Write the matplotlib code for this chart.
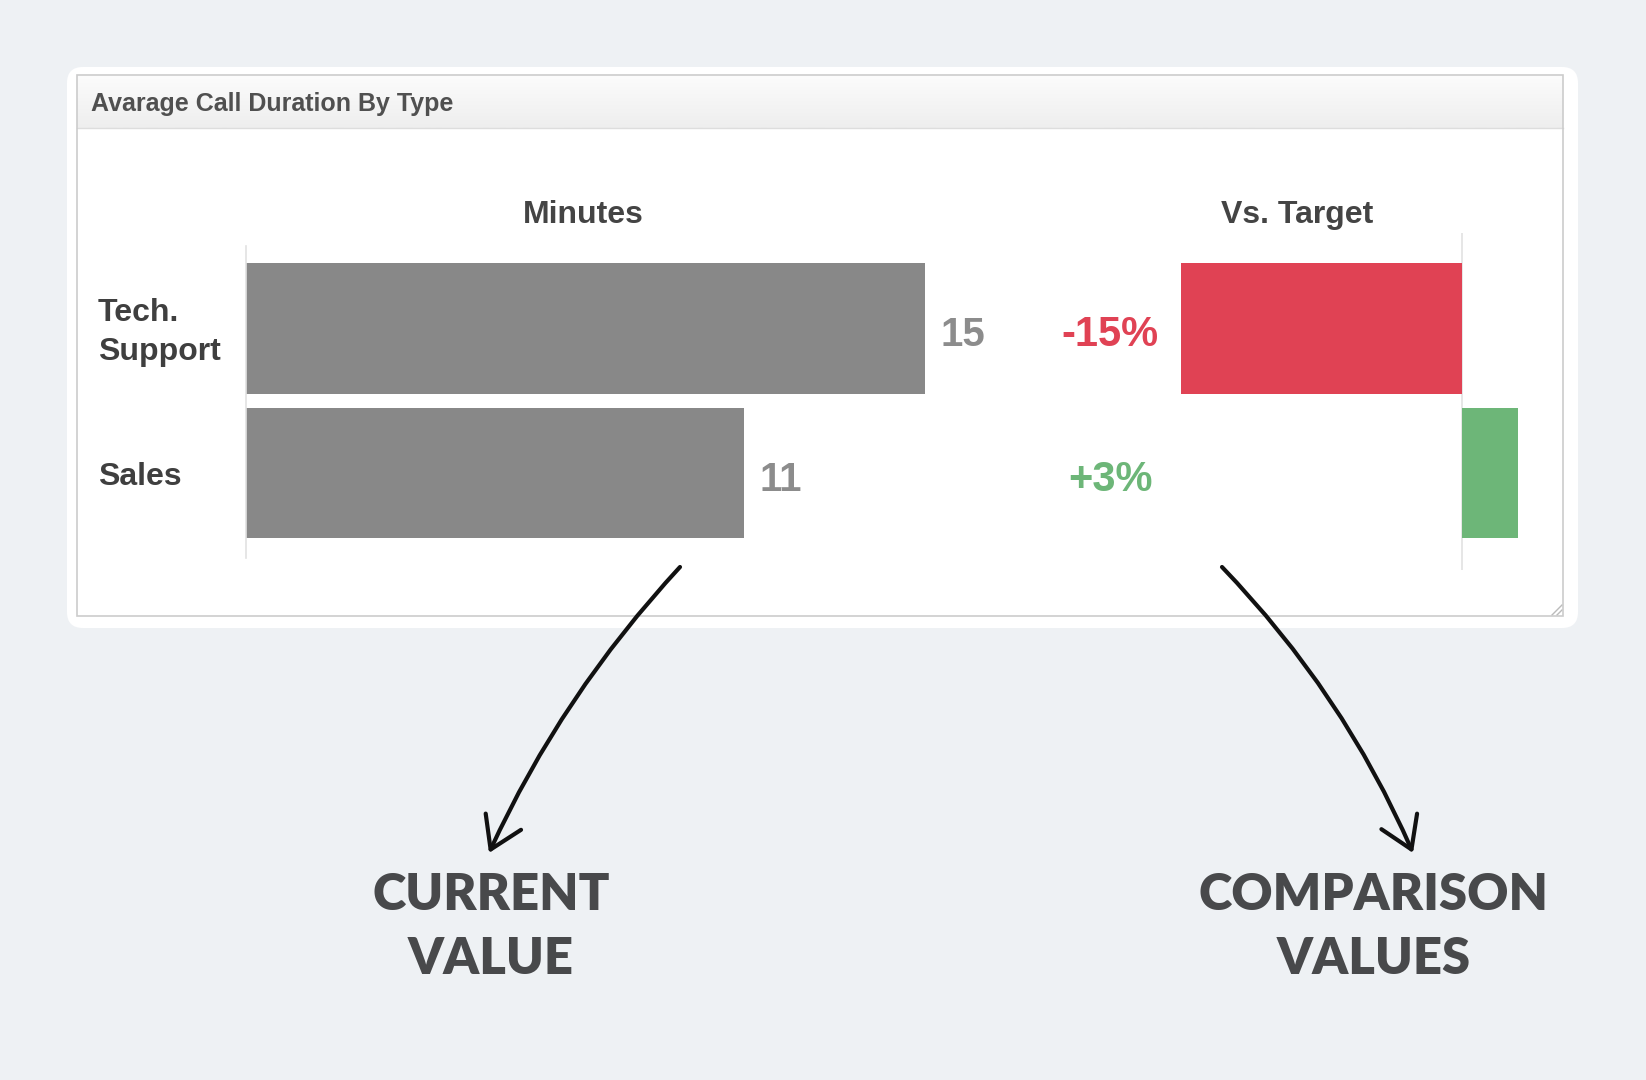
import matplotlib
matplotlib.use("Agg")
import matplotlib.pyplot as plt
import numpy as np
from matplotlib.patches import FancyBboxPatch, Rectangle, FancyArrowPatch, ArrowStyle
from matplotlib.lines import Line2D
from matplotlib import transforms as mtransforms

# ---------------- data ----------------
categories = ["Tech.\nSupport", "Sales"]
minutes = [15, 11]
vs_target = [-15, 3]
minute_labels = ["15", "11"]
target_labels = ["-15%", "+3%"]
title = "Avarage Call Duration By Type"
col_headers = ["Minutes", "Vs. Target"]
callout_left = ["CURRENT", "VALUE"]
callout_right = ["COMPARISON", "VALUES"]

# ---------------- styles ----------------
BG = "#eef1f4"
BAR_GREY = "#888888"
RED = "#e04254"
GREEN = "#6db678"
TXT_DARK = "#3f3f3f"
FONT = ["Liberation Sans", "DejaVu Sans"]

W, H, DPI = 1646, 1080, 100
fig = plt.figure(figsize=(W / DPI, H / DPI), dpi=DPI)
fig.patch.set_facecolor(BG)

# pixel transform with top-left origin
PX = mtransforms.Affine2D().scale(1 / DPI, -1 / DPI).translate(0, H / DPI) + fig.dpi_scale_trans


def fig_axes(x0, y0, x1, y1, z=1):
    ax = fig.add_axes([x0 / W, 1 - y1 / H, (x1 - x0) / W, (y1 - y0) / H])
    ax.set_zorder(z)
    return ax


def fx(x):
    return x / W


def fy(y):
    return 1 - y / H


# ---------------- card & panel ----------------
card = FancyBboxPatch((67, 67), 1511, 561, boxstyle="round,pad=0,rounding_size=16",
                      transform=PX, fc="white", ec="none", zorder=-2)
fig.patches.append(card)
panel = Rectangle((77, 75), 1486, 541, transform=PX, fc="white", ec="none", zorder=-1)
fig.patches.append(panel)

# header gradient
axh = fig_axes(77, 75, 1563, 128, z=0)
grad = np.linspace(0, 1, 50).reshape(-1, 1)
cmap = matplotlib.colors.LinearSegmentedColormap.from_list("hdr", ["#fcfcfc", "#eeeeee"])
axh.imshow(grad, aspect="auto", cmap=cmap, extent=[0, 1, 1, 0])
axh.set_axis_off()

panel_border = Rectangle((77, 75), 1486, 541, transform=PX, fc="none", ec="#cccccc",
                         lw=1.2, zorder=3)
fig.patches.append(panel_border)
fig.lines.append(Line2D([77, 1563], [128, 128], transform=PX, color="#dddddd", lw=1.0, zorder=3))
# resize grip
fig.lines.append(Line2D([1552, 1562], [615, 605], transform=PX, color="#bbbbbb", lw=1.0, zorder=3))
fig.lines.append(Line2D([1557, 1562], [615, 610], transform=PX, color="#bbbbbb", lw=1.0, zorder=3))

fig.text(fx(91), fy(104), title, ha="left", va="center", fontsize=18,
         fontweight="bold", color="#505050", family=FONT)

# ---------------- Minutes bars ----------------
ypos = np.arange(len(categories))
ax1 = fig_axes(246, 246, 970, 558, z=1)
ax1.set_facecolor("none")
ax1.barh(ypos, minutes, height=0.9, color=BAR_GREY)
ax1.set_xlim(0, 16)
ax1.set_ylim(1.588, -0.571)
for s in ["top", "right", "bottom"]:
    ax1.spines[s].set_visible(False)
ax1.spines["left"].set_color("#e2e2e2")
ax1.spines["left"].set_linewidth(1.2)
ax1.set_xticks([])
ax1.set_yticks([])

for i, (v, lbl) in enumerate(zip(minutes, minute_labels)):
    ax1.annotate(lbl, (v, i), xytext=(11, -5), textcoords="offset points",
                 ha="left", va="center", fontsize=29, fontweight="bold",
                 color="#8c8c8c", family=FONT)

lab_tr = mtransforms.blended_transform_factory(fig.transFigure, ax1.transData)
for i, cat in enumerate(categories):
    ax1.text(fx(98), i + 0.03, cat, transform=lab_tr, ha="left", va="center",
             fontsize=23, fontweight="bold", color=TXT_DARK, linespacing=1.38,
             family=FONT)

fig.text(fx(583), fy(215), col_headers[0], ha="center", va="center", fontsize=23,
         fontweight="bold", color="#444444", family=FONT)

# ---------------- Vs Target bars ----------------
x0 = 1462 - 16 * 18.73
x1 = 1462 + 4 * 18.73
ax2 = fig_axes(x0, 233, x1, 570, z=1)
ax2.set_facecolor("none")
colors = [RED if v < 0 else GREEN for v in vs_target]
ax2.barh(ypos, vs_target, height=0.9, color=colors)
ax2.set_xlim(-16, 4)
ax2.set_ylim(1.671, -0.661)
ax2.axvline(0, color="#e2e2e2", lw=1.2, zorder=0)
for s in ax2.spines.values():
    s.set_visible(False)
ax2.set_xticks([])
ax2.set_yticks([])

pct_tr = mtransforms.blended_transform_factory(fig.transFigure, ax2.transData)
for i, (v, lbl) in enumerate(zip(vs_target, target_labels)):
    ax2.annotate(lbl, (fx(1110), i), xycoords=pct_tr, xytext=(0, -5),
                 textcoords="offset points", ha="center", va="center",
                 fontsize=30, fontweight="bold", color=colors[i], family=FONT)

fig.text(fx(1297), fy(215), col_headers[1], ha="center", va="center", fontsize=23,
         fontweight="bold", color="#444444", family=FONT)

# ---------------- callout arrows ----------------
style = ArrowStyle("->", head_length=2.2, head_width=1.4)
a1 = FancyArrowPatch((680, 567), (489, 853), transform=PX, arrowstyle=style,
                     mutation_scale=10, connectionstyle="arc3,rad=0.08",
                     color="#111111", lw=3.0, shrinkA=0, shrinkB=0, zorder=5,
                     capstyle="round", joinstyle="round")
a2 = FancyArrowPatch((1222, 567), (1413, 853), transform=PX, arrowstyle=style,
                     mutation_scale=10, connectionstyle="arc3,rad=-0.09",
                     color="#111111", lw=3.0, shrinkA=0, shrinkB=0, zorder=5,
                     capstyle="round", joinstyle="round")
fig.patches.append(a1)
fig.patches.append(a2)

CALL_FONT = ["Lato", "DejaVu Sans"]
for j, line in enumerate(callout_left):
    fig.text(fx(491), fy(895 + 64 * j), line, ha="center", va="center", fontsize=36.5,
             fontweight="heavy", color="#48494b", family=CALL_FONT, zorder=6)
for j, line in enumerate(callout_right):
    fig.text(fx(1374), fy(895 + 64 * j), line, ha="center", va="center", fontsize=36.5,
             fontweight="heavy", color="#48494b", family=CALL_FONT, zorder=6)

fig.savefig("out.png", dpi=DPI, facecolor=fig.get_facecolor())
